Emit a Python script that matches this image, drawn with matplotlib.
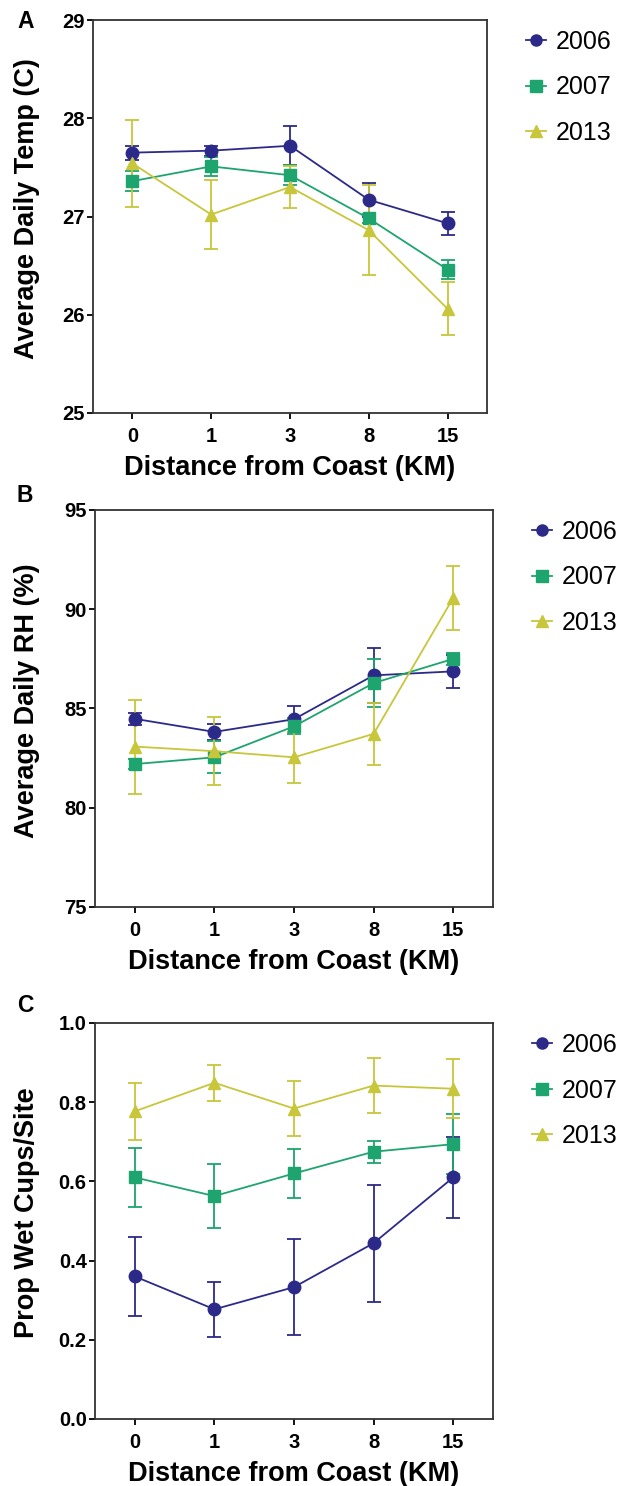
import matplotlib
matplotlib.use("Agg")
import matplotlib.pyplot as plt
from matplotlib.lines import Line2D

plt.rcParams['font.family'] = ['Liberation Sans', 'DejaVu Sans']

distances = ["0", "1", "3", "8", "15"]
years = ["2006", "2007", "2013"]
colors = {"2006": "#2c2a88", "2007": "#1ea46e", "2013": "#c8c63a"}
markers = {"2006": "o", "2007": "s", "2013": "^"}

# Panel A: Average daily temperature (C)
temp_mean = {
    "2006": [27.65, 27.67, 27.72, 27.17, 26.93],
    "2007": [27.36, 27.51, 27.42, 26.98, 26.46],
    "2013": [27.54, 27.02, 27.30, 26.86, 26.06],
}
temp_err = {
    "2006": [0.07, 0.05, 0.20, 0.17, 0.12],
    "2007": [0.10, 0.10, 0.10, 0.05, 0.10],
    "2013": [0.44, 0.35, 0.21, 0.46, 0.27],
}

# Panel B: Average daily RH (%)
rh_mean = {
    "2006": [84.48, 83.82, 84.46, 86.67, 86.87],
    "2007": [82.20, 82.54, 84.10, 86.28, 87.50],
    "2013": [83.08, 82.85, 82.54, 83.72, 90.57],
}
rh_err = {
    "2006": [0.30, 0.40, 0.65, 1.40, 0.85],
    "2007": [0.25, 0.80, 0.40, 1.20, 0.30],
    "2013": [2.37, 1.70, 1.30, 1.55, 1.62],
}

# Panel C: Proportion wet cups per site
wet_mean = {
    "2006": [0.360, 0.277, 0.333, 0.444, 0.610],
    "2007": [0.610, 0.563, 0.620, 0.675, 0.694],
    "2013": [0.777, 0.849, 0.784, 0.842, 0.834],
}
wet_err = {
    "2006": [0.100, 0.070, 0.122, 0.148, 0.102],
    "2007": [0.074, 0.080, 0.061, 0.028, 0.075],
    "2013": [0.072, 0.046, 0.070, 0.070, 0.075],
}

W, H = 622, 1486
fig = plt.figure(figsize=(W / 100, H / 100), dpi=100)

panels = [
    dict(letter="A", letter_y=21, box=(93, 20, 487, 413), mean=temp_mean, err=temp_err,
         ylim=(25, 29), yticks=[25, 26, 27, 28, 29], fmt="{:.0f}",
         ylabel="Average Daily Temp (C)"),
    dict(letter="B", letter_y=495, box=(95, 510, 493, 907), mean=rh_mean, err=rh_err,
         ylim=(75, 95), yticks=[75, 80, 85, 90, 95], fmt="{:.0f}",
         ylabel="Average Daily RH (%)"),
    dict(letter="C", letter_y=1005, box=(95, 1023, 493, 1419), mean=wet_mean, err=wet_err,
         ylim=(0, 1.0), yticks=[0.0, 0.2, 0.4, 0.6, 0.8, 1.0], fmt="{:.1f}",
         ylabel="Prop Wet Cups/Site"),
]

xpos = list(range(len(distances)))

for p in panels:
    x0, y0, x1, y1 = p["box"]
    aw, ah = x1 - x0, y1 - y0
    ax = fig.add_axes([x0 / W, 1 - y1 / H, aw / W, ah / H])
    for yr in years:
        ax.errorbar(xpos, p["mean"][yr], yerr=p["err"][yr], color=colors[yr],
                    marker=markers[yr], markersize=9, linewidth=1.3,
                    elinewidth=1.3, capsize=5, capthick=1.3, label=yr, zorder=3)
    ax.set_xlim(-0.5, 4.5)
    ax.set_ylim(*p["ylim"])
    ax.set_xticks(xpos)
    ax.set_xticklabels(distances, fontsize=14.5, fontweight="bold")
    ax.set_yticks(p["yticks"])
    ax.set_yticklabels([p["fmt"].format(v) for v in p["yticks"]], fontsize=14.5,
                       fontweight="bold")
    ax.tick_params(axis="x", direction="out", length=4, width=1.3, pad=6)
    ax.tick_params(axis="y", direction="out", length=4.5, width=1.3, pad=1.5)
    for s in ax.spines.values():
        s.set_linewidth(1.3)
        s.set_color("#333333")
    ax.set_xlabel("Distance from Coast (KM)", fontsize=19.5, fontweight="bold")
    ax.xaxis.set_label_coords(0.5, -42 / ah)
    ax.set_ylabel(p["ylabel"], fontsize=19.5, fontweight="bold")
    ax.yaxis.set_label_coords((40 - x0) / aw, 0.5 + 8 / ah)
    fig.text(17 / W, 1 - p["letter_y"] / H, p["letter"], fontsize=16.5,
             fontweight="bold", ha="left", va="center")
    handles = [Line2D([0], [0], color=colors[yr], marker=markers[yr],
                      markersize=8, linewidth=1.3) for yr in years]
    ax.legend(handles, years, loc="upper left",
              bbox_to_anchor=(1 + 29 / aw, 1 + 0 / ah),
              frameon=False, fontsize=18, handlelength=0.8, handletextpad=0.4,
              labelspacing=0.86, borderaxespad=0)

fig.savefig("out.png", dpi=100)
